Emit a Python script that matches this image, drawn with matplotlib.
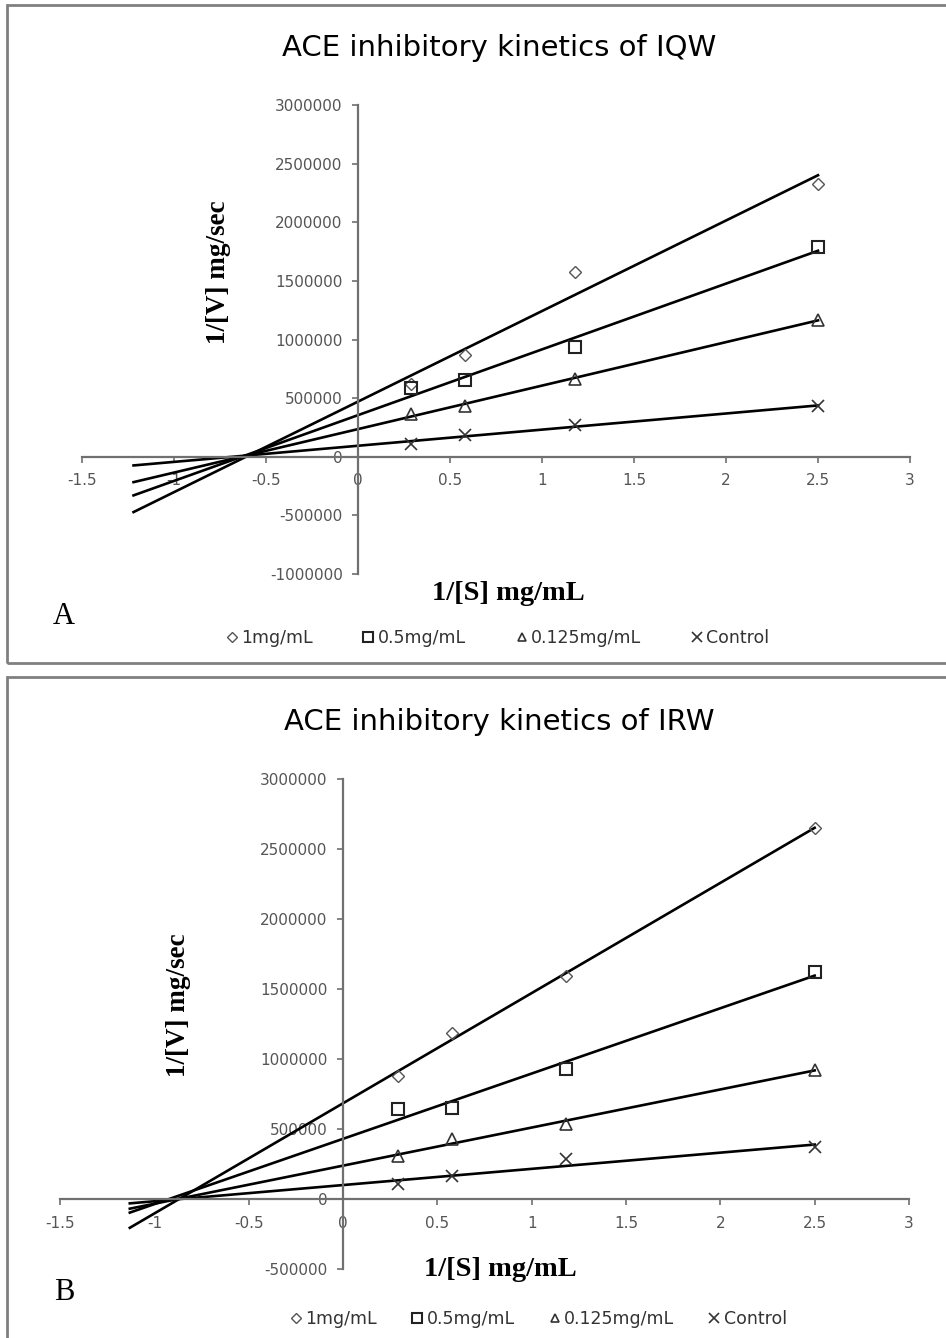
import numpy as np
import matplotlib
matplotlib.use("Agg")
import matplotlib.pyplot as plt
from matplotlib.patches import Rectangle

# substrate concentrations (1/[S], mg/mL) shared by both panels
inv_s = [0.29, 0.58, 1.18, 2.5]

series_names = ["1mg/mL", "0.5mg/mL", "0.125mg/mL", "Control"]

# panel A: IQW, 1/[V] values
iqw_1 = [620000, 870000, 1576000, 2329000]
iqw_05 = [589000, 651000, 939000, 1792000]
iqw_0125 = [367000, 429000, 666000, 1169000]
iqw_ctrl = [111000, 188000, 273000, 429000]

# panel B: IRW
irw_1 = [882000, 1188000, 1593000, 2653000]
irw_05 = [640000, 647000, 932000, 1622000]
irw_0125 = [306000, 427000, 533000, 925000]
irw_ctrl = [107000, 164000, 284000, 370000]

W, H = 946, 1338
fig = plt.figure(figsize=(W / 100, H / 100), dpi=100)

def fx(px):
    return px / W

def fy(py):
    return 1 - py / H

mstyles = [
    dict(marker="D", ms=6.5, mfc="none", mec="#555555", mew=1.0),
    dict(marker="s", ms=9, mfc="none", mec="#222222", mew=1.5),
    dict(marker="^", ms=8, mfc="none", mec="#333333", mew=1.2),
    dict(marker="x", ms=9, mfc="none", mec="#333333", mew=1.2),
]

def panel(rect, series, ylim, yticks, x_start, title, letter, pos):
    ax = fig.add_axes(rect)
    handles = []
    for vals, st, name in zip(series, mstyles, series_names):
        k, b = np.polyfit(inv_s, vals, 1)
        xx = np.array([x_start, 2.5])
        ax.plot(xx, k * xx + b, color="black", lw=1.9, zorder=2)
        h, = ax.plot(inv_s, vals, ls="none", zorder=3, **st)
        handles.append(h)
    ax.set_xlim(-1.5, 3)
    ax.set_ylim(*ylim)
    ax.set_xticks(np.arange(-1.5, 3.01, 0.5))
    ax.set_xticklabels(["-1.5", "-1", "-0.5", "0", "0.5", "1", "1.5", "2", "2.5", "3"])
    ax.set_yticks(yticks)
    ax.set_yticklabels([str(int(v)) for v in yticks])
    for s in ["top", "right"]:
        ax.spines[s].set_visible(False)
    ax.spines["left"].set_position(("data", 0))
    ax.spines["bottom"].set_position(("data", 0))
    for s in ["left", "bottom"]:
        ax.spines[s].set_color("#707070")
        ax.spines[s].set_linewidth(1.6)
    ax.tick_params(axis="both", colors="#707070", labelcolor="#555555",
                   labelsize=11, direction="out", length=4, width=1.2)
    ax.tick_params(axis="x", pad=8)
    ax.tick_params(axis="y", pad=7)
    ax.patch.set_alpha(0)

    fig.text(fx(499), fy(pos["title"]), title, ha="center", va="center", fontsize=21)
    fig.text(fx(pos["ylab_x"]), fy(pos["ylab_y"]), "1/[V] mg/sec", rotation=90,
             ha="center", va="center", fontsize=19.5, fontweight="bold",
             family="Liberation Serif")
    fig.text(fx(pos["xlab_x"]), fy(pos["xlab_y"]), "1/[S] mg/mL", ha="center",
             va="center", fontsize=20.5, fontweight="bold", family="Liberation Serif")
    fig.text(fx(64), fy(pos["letter"]), letter, ha="center", va="center",
             fontsize=22, family="Liberation Serif")
    fig.legend(handles, series_names, loc="center", ncol=4, frameon=False,
               bbox_to_anchor=(fx(pos["leg_x"]), fy(pos["leg_y"])),
               fontsize=12.5, labelcolor="#333333", handlelength=0.8,
               handletextpad=0.15, columnspacing=pos["colsp"], markerscale=0.75)
    return ax

# panel A
panel([fx(82), fy(574), fx(910 - 82), (574 - 105) / H],
      [iqw_1, iqw_05, iqw_0125, iqw_ctrl],
      (-1000000, 3000000), np.arange(-1000000, 3000001, 500000), -1.22,
      "ACE inhibitory kinetics of IQW", "A",
      dict(title=48, ylab_x=218, ylab_y=272, xlab_x=508, xlab_y=594, letter=617,
           leg_x=497, leg_y=638, colsp=2.8))

# panel B
panel([fx(60), fy(1269), fx(909 - 60), (1269 - 779) / H],
      [irw_1, irw_05, irw_0125, irw_ctrl],
      (-500000, 3000000), np.arange(-500000, 3000001, 500000), -1.13,
      "ACE inhibitory kinetics of IRW", "B",
      dict(title=722, ylab_x=178, ylab_y=1005, xlab_x=500, xlab_y=1270, letter=1293,
           leg_x=538, leg_y=1319, colsp=1.9))

# panel frames
fig.patches.append(Rectangle((fx(7), fy(663)), fx(960 - 7), (663 - 5) / H,
                             transform=fig.transFigure, fill=False,
                             edgecolor="#808080", lw=2))
fig.patches.append(Rectangle((fx(7), fy(1350)), fx(960 - 7), (1350 - 677) / H,
                             transform=fig.transFigure, fill=False,
                             edgecolor="#808080", lw=2))

fig.savefig("out.png", dpi=100)
